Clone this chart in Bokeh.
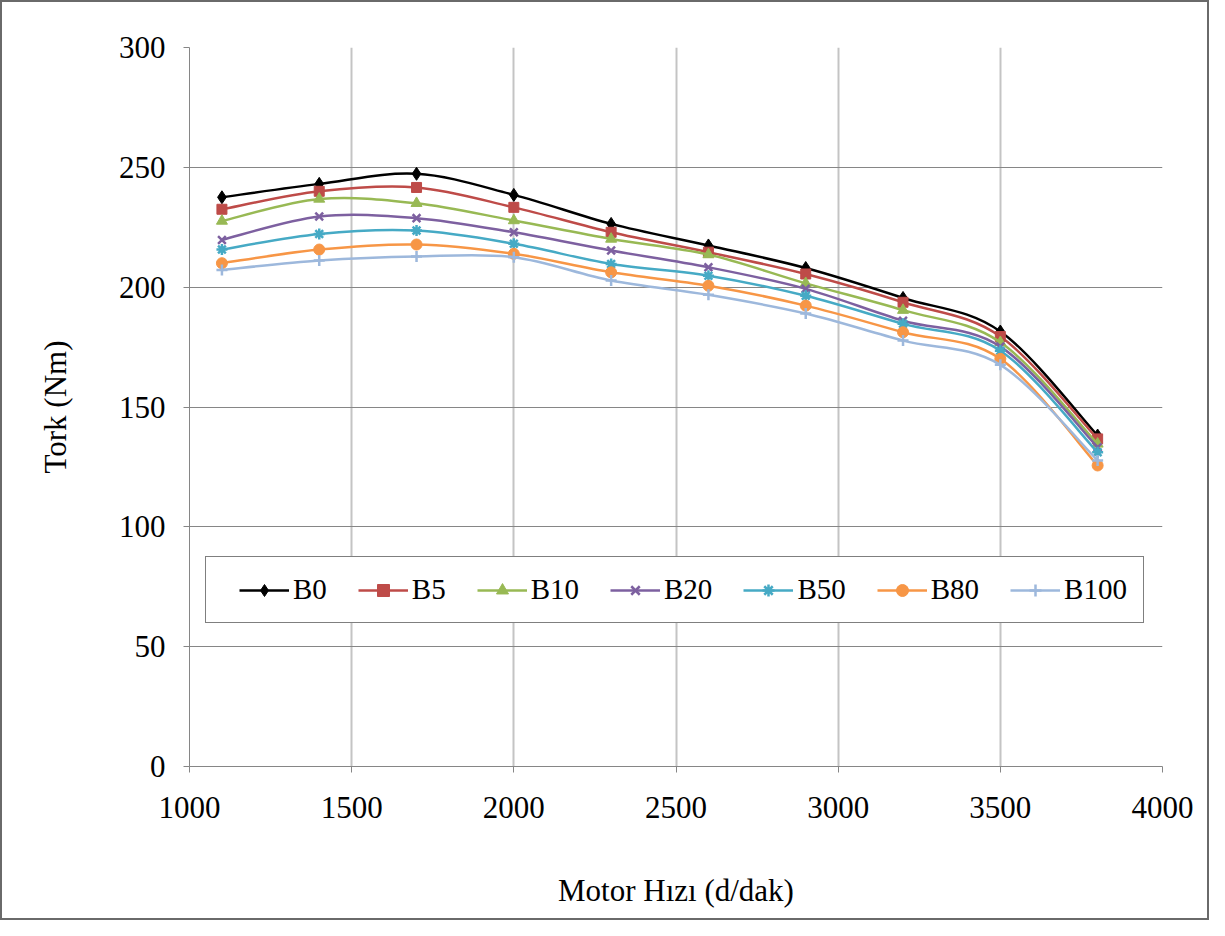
from bokeh.plotting import figure
from bokeh.models import FixedTicker, Range1d, Legend, LegendItem, ColumnDataSource
from bokeh.embed import file_html
from bokeh.resources import INLINE

speeds = [1100, 1400, 1700, 2000, 2300, 2600, 2900, 3200, 3500, 3800]
B0 = [237.5, 243.1, 247.3, 238.5, 226.4, 217.4, 208.0, 195.5, 181.5, 138.1]
B5 = [232.5, 240.0, 241.6, 233.3, 222.9, 214.6, 205.5, 193.7, 179.4, 136.7]
B10 = [227.6, 236.8, 235.0, 227.8, 220.1, 213.6, 201.6, 190.4, 177.0, 134.6]
B20 = [219.7, 229.5, 228.8, 222.9, 215.3, 208.3, 199.3, 186.0, 175.2, 133.2]
B50 = [215.7, 222.2, 223.6, 218.1, 209.7, 204.8, 196.4, 184.7, 173.5, 131.1]
B80 = [210.0, 215.7, 217.8, 213.9, 206.2, 200.6, 192.3, 181.2, 170.1, 125.6]
B100 = [207.2, 211.1, 212.8, 212.5, 202.8, 196.8, 189.0, 177.7, 167.6, 127.7]

series_names = ["B0", "B5", "B10", "B20", "B50", "B80", "B100"]
series_values = [B0, B5, B10, B20, B50, B80, B100]
x_ticks = [1000, 1500, 2000, 2500, 3000, 3500, 4000]
y_ticks = [0, 50, 100, 150, 200, 250, 300]

colors = ["#000000", "#BE4B48", "#98B954", "#7D60A0", "#46AAC5", "#F79646", "#9DB8DC"]
markers = ["diamond", "square", "triangle", "x", "asterisk", "circle", "cross"]
msizes = [13, 10, 11, 11, 11, 11, 11]

FONT = "Liberation Serif"

p = figure(width=1209, height=920, output_backend="svg", toolbar_location=None,
           x_range=Range1d(1000, 4000), y_range=Range1d(0, 300),
           min_border_left=187, min_border_right=49, min_border_top=45, min_border_bottom=156)
p.outline_line_color = None
p.background_fill_color = "white"
p.border_fill_color = "white"
p.styles = {"border": "2px solid #6a6a6a", "box-sizing": "border-box"}

# grid
p.xgrid.ticker = FixedTicker(ticks=x_ticks)
p.ygrid.ticker = FixedTicker(ticks=y_ticks)
p.xgrid.grid_line_color = "#C4C4C4"
p.xgrid.grid_line_width = 2
p.ygrid.grid_line_color = "#868686"
p.ygrid.grid_line_width = 1

for ax in (p.xaxis[0], p.yaxis[0]):
    ax.axis_line_color = "#868686"
    ax.major_tick_line_color = "#868686"
    ax.major_tick_out = 6
    ax.major_tick_in = 0
    ax.minor_tick_out = 0
    ax.minor_tick_in = 0
    ax.major_label_text_font = FONT
    ax.major_label_text_font_size = "31px"
    ax.major_label_text_color = "#000000"
    ax.axis_label_text_font = FONT
    ax.axis_label_text_font_size = "31px"
    ax.axis_label_text_font_style = "normal"
    ax.axis_label_text_color = "#000000"

p.xaxis.ticker = FixedTicker(ticks=x_ticks)
p.yaxis.ticker = FixedTicker(ticks=y_ticks)
p.xaxis.axis_label = "Motor Hızı (d/dak)"
p.yaxis.axis_label = "Tork (Nm)"
p.xaxis.major_label_standoff = 24
p.yaxis.major_label_standoff = 18
p.xaxis.axis_label_standoff = 52
p.yaxis.axis_label_standoff = 43


def bezier_segments(xs, ys):
    n = len(xs)
    x0, y0, x1, y1, cx0, cy0, cx1, cy1 = [], [], [], [], [], [], [], []
    for i in range(n - 1):
        xm, ym = (xs[i - 1], ys[i - 1]) if i > 0 else (xs[i], ys[i])
        xp, yp = (xs[i + 2], ys[i + 2]) if i + 2 < n else (xs[i + 1], ys[i + 1])
        x0.append(xs[i]); y0.append(ys[i])
        x1.append(xs[i + 1]); y1.append(ys[i + 1])
        cx0.append(xs[i] + (xs[i + 1] - xm) / 6.0)
        cy0.append(ys[i] + (ys[i + 1] - ym) / 6.0)
        cx1.append(xs[i + 1] - (xp - xs[i]) / 6.0)
        cy1.append(ys[i + 1] - (yp - ys[i]) / 6.0)
    return dict(x0=x0, y0=y0, x1=x1, y1=y1, cx0=cx0, cy0=cy0, cx1=cx1, cy1=cy1)


items = []
for name, vals, col, mk, ms in zip(series_names, series_values, colors, markers, msizes):
    seg = ColumnDataSource(bezier_segments(speeds, vals))
    p.bezier(x0="x0", y0="y0", x1="x1", y1="y1", cx0="cx0", cy0="cy0", cx1="cx1", cy1="cy1",
             source=seg, line_color=col, line_width=2.5)
    # single-point line: invisible on the plot, supplies the line in the legend
    proxy = p.line(x=speeds[:1], y=vals[:1], line_color=col, line_width=2.5)
    kw = dict(size=ms, line_color=col, fill_color=col)
    if mk in ("x", "asterisk", "cross"):
        kw["line_width"] = 2.5
    sc = p.scatter(x=speeds, y=vals, marker=mk, **kw)
    items.append(LegendItem(label=name, renderers=[proxy, sc]))

legend = Legend(items=items, orientation="horizontal", location=(16, 143))
legend.label_text_font = FONT
legend.label_text_font_size = "29px"
legend.label_text_color = "#000000"
legend.glyph_width = 50
legend.glyph_height = 30
legend.label_standoff = 4
legend.spacing = 31
legend.padding = 16
legend.margin = 0
legend.border_line_color = "#000000"
legend.border_line_width = 1
legend.background_fill_color = "white"
legend.background_fill_alpha = 1.0
if "title_location" in Legend.properties():
    legend.title = " "
    legend.title_location = "left"
    legend.title_text_font_size = "10px"
    legend.title_standoff = 6
p.add_layout(legend, "center")

open("out.html", "w").write(file_html(p, INLINE))
